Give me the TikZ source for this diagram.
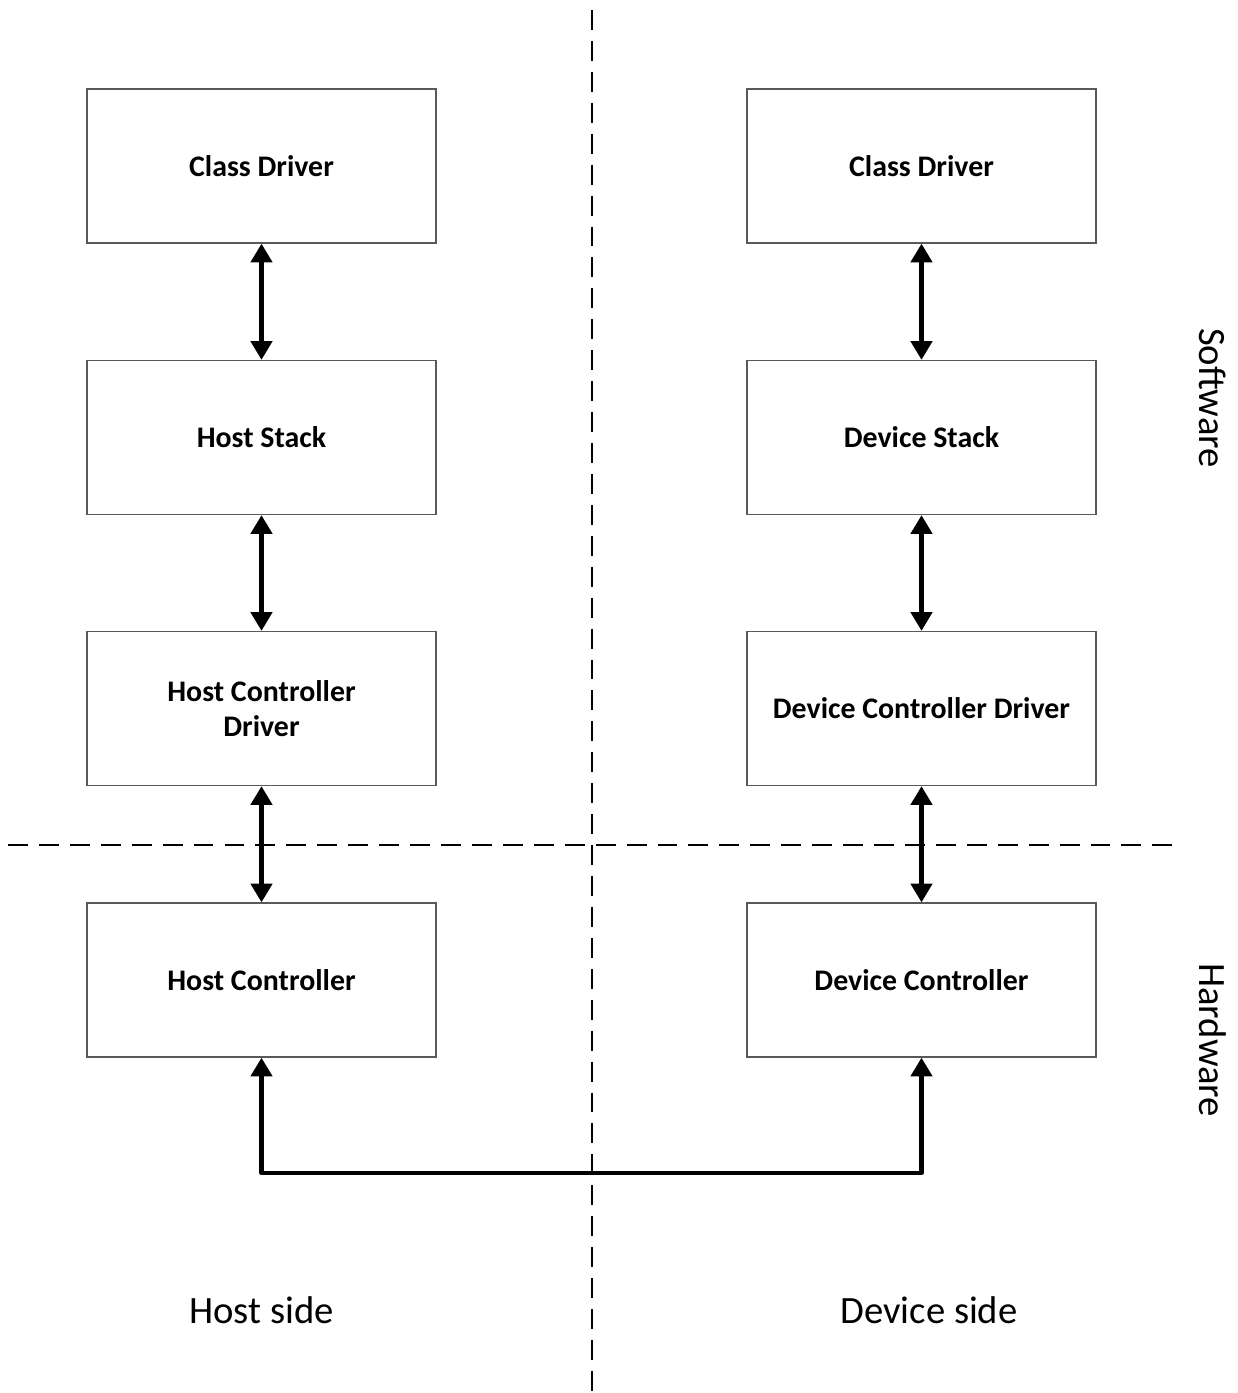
\documentclass[tikz,border=0pt]{standalone}
\usepackage{fontspec}
\setmainfont{Carlito}
\usetikzlibrary{arrows.meta}
\tikzset{
  layer/.style={draw=black!65,line width=1.1pt,minimum width=10.47cm,minimum height=4.62cm,
    align=center,font=\fontsize{25.5}{30}\selectfont\bfseries},
  link/.style={{Triangle[width=18pt,length=16pt]}-{Triangle[width=18pt,length=16pt]},line width=3.6pt},
  split/.style={line width=1.7pt,dash pattern=on 17pt off 9.4pt},
  side/.style={font=\fontsize{33}{36}\selectfont}
}
\begin{document}
\begin{tikzpicture}[x=0.03cm,y=-0.03cm]
\useasboundingbox (0,0) rectangle (1238,1393);
% separators
\draw[split] (592,10) -- (592,1393);
\draw[split] (8,845) -- (1175,845);
% host side
\node[layer] (hcls) at (261.5,166) {Class Driver};
\node[layer] (hstk) at (261.5,437.5) {Host Stack};
\node[layer] (hcd) at (261.5,708.5) {Host Controller\\Driver};
\node[layer] (hc) at (261.5,980) {Host Controller};
% device side
\node[layer] (dcls) at (921.5,166) {Class Driver};
\node[layer] (dstk) at (921.5,437.5) {Device Stack};
\node[layer] (dcd) at (921.5,708.5) {Device Controller Driver};
\node[layer] (dc) at (921.5,980) {Device Controller};
% links
\draw[link] (hcls.south) -- (hstk.north);
\draw[link] (hstk.south) -- (hcd.north);
\draw[link] (hcd.south) -- (hc.north);
\draw[link] (dcls.south) -- (dstk.north);
\draw[link] (dstk.south) -- (dcd.north);
\draw[link] (dcd.south) -- (dc.north);
\coordinate (busl) at (261.5,1173);
\coordinate (busr) at (921.5,1173);
\draw[link,line join=round] (hc.south) -- (busl) -- (busr) -- (dc.south);
% labels
\node[side] (hside) at (261.5,1310) {Host side};
\node[side] (dside) at (929,1310) {Device side};
\node[side,rotate=-90] (sw) at (1213,398) {Software};
\node[side,rotate=-90] (hw) at (1213,1040) {Hardware};
\end{tikzpicture}
\end{document}
